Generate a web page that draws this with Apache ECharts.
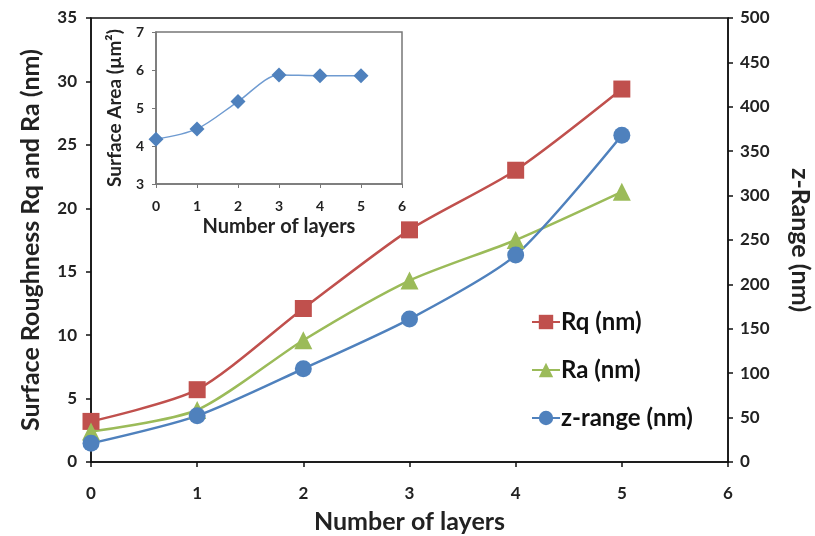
<!DOCTYPE html>
<html>
<head>
<meta charset="utf-8">
<script src="https://cdn.jsdelivr.net/npm/echarts@6/dist/echarts.min.js"></script>
<style>
  html, body { margin: 0; padding: 0; background: #fff; }
  #chart { width: 815px; height: 536px; }
</style>
</head>
<body>
<div id="chart"></div>
<script>
// Layer counts and measured surface values
const layers = [0, 1, 2, 3, 4, 5];
const rq = [3.2, 5.7, 12.1, 18.3, 23.0, 29.4];
const ra = [2.4, 4.1, 9.6, 14.3, 17.5, 21.3];
const zRange = [21, 52, 105, 161, 233, 368];
const surfaceArea = [4.18, 4.45, 5.17, 5.87, 5.85, 5.85];

const leftTicks = [0, 5, 10, 15, 20, 25, 30, 35];
const rightTicks = [0, 50, 100, 150, 200, 250, 300, 350, 400, 450, 500];

const pairs = (ys) => layers.map((x, i) => [x, ys[i]]);

const FONT = 'Lato, "Open Sans", sans-serif';
const RED = '#C0504D', GREEN = '#9BBB59', BLUE = '#4F81BD';

const chart = echarts.init(document.getElementById('chart'));

const tickLabel = { color: '#222', fontFamily: FONT, fontWeight: 'bold', fontSize: 17 };
const axisLine = { show: true, lineStyle: { color: '#111', width: 1.5 } };
const axisTick = { show: true, length: 5, lineStyle: { color: '#111', width: 1.5 } };
const titleStyle = { fontFamily: FONT, fontWeight: 'bold', fontSize: 25, color: '#222' };
const insetTitleX = { fontFamily: FONT, fontWeight: 'bold', fontSize: 20, color: '#222' };
const insetTitleY = { fontFamily: FONT, fontWeight: 'bold', fontSize: 19, color: '#222' };
const insetTick = { color: '#222', fontFamily: FONT, fontWeight: 'bold', fontSize: 14 };
const insetLine = { show: true, lineStyle: { color: '#777', width: 1.5 } };
const insetTickMark = { show: true, length: 4, lineStyle: { color: '#777' } };

chart.setOption({
  backgroundColor: '#fff',
  animation: false,
  grid: [
    { left: 91, right: 87, top: 18, bottom: 74, outerBoundsMode: 'none',
      show: true, borderColor: '#111', borderWidth: 1.5 },
    { left: 156, top: 32, width: 246, height: 152, outerBoundsMode: 'none',
      show: true, borderColor: '#777', borderWidth: 1.5, backgroundColor: '#fff' }
  ],
  legend: {
    orient: 'vertical',
    left: 526,
    top: 305,
    itemGap: 24,
    itemWidth: 28,
    itemHeight: 18,
    textStyle: { fontFamily: FONT, fontWeight: 'bold', fontSize: 24, color: '#111', padding: [0, 0, 0, -4] },
    data: ['Rq (nm)', 'Ra (nm)', 'z-range (nm)']
  },
  xAxis: [
    {
      gridIndex: 0, type: 'value', min: 0, max: 6, interval: 1,
      name: 'Number of layers', nameLocation: 'middle', nameGap: 47,
      nameTextStyle: titleStyle,
      axisLine, axisTick, splitLine: { show: false },
      axisLabel: Object.assign({}, tickLabel, { margin: 23 })
    },
    {
      gridIndex: 1, type: 'value', min: 0, max: 6, interval: 1,
      name: 'Number of layers', nameLocation: 'middle', nameGap: 33,
      nameTextStyle: insetTitleX,
      axisLine: insetLine, axisTick: insetTickMark, splitLine: { show: false },
      axisLabel: Object.assign({}, insetTick, { margin: 15 })
    }
  ],
  yAxis: [
    {
      gridIndex: 0, type: 'value', min: leftTicks[0], max: leftTicks[leftTicks.length - 1], interval: 5,
      name: 'Surface Roughness Rq and Ra (nm)', nameLocation: 'middle', nameGap: 48,
      nameTextStyle: titleStyle,
      axisLine, axisTick, splitLine: { show: false },
      axisLabel: Object.assign({}, tickLabel, { margin: 14 })
    },
    {
      gridIndex: 0, type: 'value', position: 'right',
      min: rightTicks[0], max: rightTicks[rightTicks.length - 1], interval: 50,
      name: 'z-Range (nm)', nameLocation: 'middle', nameGap: 60, nameRotate: -90,
      nameTextStyle: titleStyle,
      axisLine, axisTick, splitLine: { show: false },
      axisLabel: Object.assign({}, tickLabel, { margin: 12 })
    },
    {
      gridIndex: 1, type: 'value', min: 3, max: 7, interval: 1,
      name: 'Surface Area (µm²)', nameLocation: 'middle', nameGap: 32,
      nameTextStyle: insetTitleY,
      axisLine: insetLine, axisTick: insetTickMark, splitLine: { show: false },
      axisLabel: Object.assign({}, insetTick, { margin: 12 })
    }
  ],
  series: [
    {
      name: 'Rq (nm)', type: 'line', xAxisIndex: 0, yAxisIndex: 0,
      data: pairs(rq), smooth: 0.25,
      symbol: 'rect', symbolSize: 17,
      lineStyle: { color: RED, width: 2.5 }, itemStyle: { color: RED }
    },
    {
      name: 'Ra (nm)', type: 'line', xAxisIndex: 0, yAxisIndex: 0,
      data: pairs(ra), smooth: 0.25,
      symbol: 'triangle', symbolSize: 18,
      lineStyle: { color: GREEN, width: 2.5 }, itemStyle: { color: GREEN }
    },
    {
      name: 'z-range (nm)', type: 'line', xAxisIndex: 0, yAxisIndex: 1,
      data: pairs(zRange), smooth: 0.25,
      symbol: 'circle', symbolSize: 17,
      lineStyle: { color: BLUE, width: 2.5 }, itemStyle: { color: BLUE }
    },
    {
      name: 'Surface Area', type: 'line', xAxisIndex: 1, yAxisIndex: 2,
      data: pairs(surfaceArea), smooth: 0.3,
      symbol: 'diamond', symbolSize: 15,
      lineStyle: { color: '#6F9BD1', width: 1.5 }, itemStyle: { color: BLUE }
    }
  ]
});
</script>
</body>
</html>
